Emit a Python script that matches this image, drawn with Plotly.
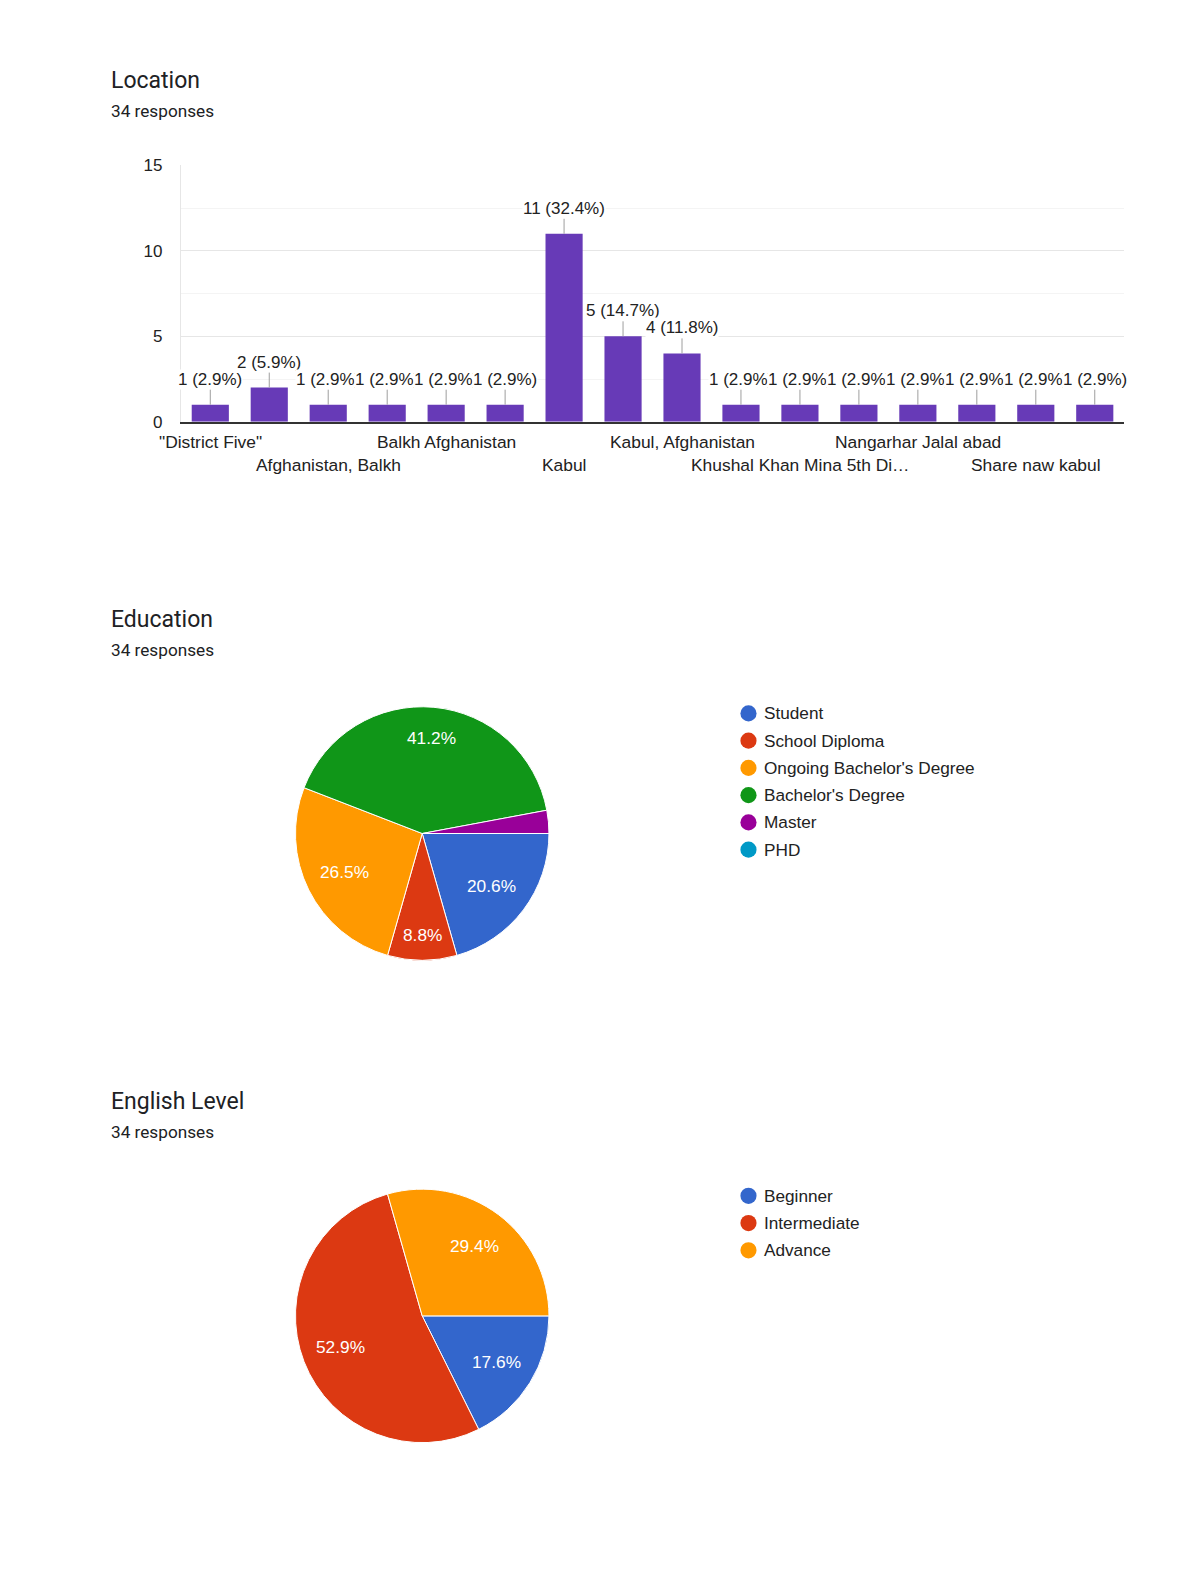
import math
import plotly.graph_objects as go

W, H = 1200, 1583

# ---------------- data ----------------
loc_categories = ['"District Five"', 'Afghanistan', 'Afghanistan, Balkh', 'Balkh',
                  'Balkh Afghanistan', 'Herat', 'Kabul', 'Kabul Afghanistan',
                  'Kabul, Afghanistan', 'Kandahar', 'Khushal Khan Mina 5th Di…',
                  'Mazar-i-Sharif', 'Nangarhar Jalal abad', 'Parwan',
                  'Share naw kabul', 'Taimani']
loc_counts = [1, 2, 1, 1, 1, 1, 11, 5, 4, 1, 1, 1, 1, 1, 1, 1]
# tick labels as shown (every other category, two rows)
loc_ticklabels = ['"District Five"', '', 'Afghanistan, Balkh', '', 'Balkh Afghanistan', '',
                  'Kabul', '', 'Kabul, Afghanistan', '', 'Khushal Khan Mina 5th Di…', '',
                  'Nangarhar Jalal abad', '', 'Share naw kabul', '']
loc_tickrow = [0, 0, 1, 0, 0, 0, 1, 0, 0, 0, 1, 0, 0, 0, 1, 0]

edu_labels = ['Student', 'School Diploma', "Ongoing Bachelor's Degree",
              "Bachelor's Degree", 'Master', 'PHD']
edu_counts = [7, 3, 9, 14, 1, 0]

eng_labels = ['Beginner', 'Intermediate', 'Advance']
eng_counts = [6, 18, 10]

total_responses = 34
pie_colors = ['#3366cc', '#dc3912', '#ff9900', '#109618', '#990099', '#0099c6']
bar_color = '#673ab7'

# ---------------- layout helpers (page pixel -> paper fraction) ----------------
SX, SY, OY = 0.99, 0.979, 8.0

def fx(x):
    return x / SX / W

def fy(y):
    return 1 - (y - OY) / SY / H

FONT = 'Liberation Sans, Arial, sans-serif'
TFONT = 'Roboto, Arial, sans-serif'
TXT = '#222222'

fig = go.Figure()

# ---------------- bar chart ----------------
fig.add_trace(go.Bar(
    x=loc_categories, y=loc_counts, marker_color=bar_color,
    marker_line_width=0, showlegend=False, hoverinfo='x+y'))

annotations = []
for cat, v in zip(loc_categories, loc_counts):
    pct = v / total_responses * 100
    annotations.append(dict(
        x=cat, y=v, xref='x', yref='y', text=f'{v} ({pct:.1f}%)',
        showarrow=True, arrowhead=0, arrowwidth=1, arrowcolor='#9e9e9e',
        ax=0, ay=-15, yanchor='bottom', xanchor='center',
        bgcolor='white', borderpad=0,
        font=dict(family=FONT, size=17, color=TXT)))

for cat, lab, row in zip(loc_categories, loc_ticklabels, loc_tickrow):
    if lab:
        annotations.append(dict(
            x=cat, xref='x', y=fy(437 + 23 * row), yref='paper', text=lab,
            showarrow=False, xanchor='center', yanchor='middle',
            font=dict(family=FONT, size=17.4, color=TXT)))

fig.update_layout(
    xaxis=dict(domain=[fx(179), fx(1113)], range=[-0.5, len(loc_categories) - 0.5],
               showticklabels=False, showgrid=False, showline=True,
               linecolor='#333333', linewidth=1.5, zeroline=False, fixedrange=True),
    yaxis=dict(domain=[fy(417), fy(163)], range=[0, 15], tickvals=[0, 5, 10, 15],
               showgrid=True, gridcolor='#e6e6e6', gridwidth=1, zeroline=False,
               showline=True, linecolor='#e6e6e6', linewidth=1,
               minor=dict(dtick=2.5, showgrid=True, gridcolor='#f4f4f4'),
               tickfont=dict(family=FONT, size=17, color=TXT), ticklabelstandoff=14,
               fixedrange=True),
    bargap=0.37,
)

# ---------------- pies ----------------
PIE_CX, PIE_R = 418, 127

def add_pie(labels, values, colors, cy):
    # square domain (in real pixels) centred on the pie position
    half = PIE_R / SX
    cxp = PIE_CX / SX
    cyp = (cy - OY) / SY
    fig.add_trace(go.Pie(
        labels=labels, values=values, sort=False, direction='clockwise',
        rotation=90, marker=dict(colors=colors, line=dict(color='white', width=1)),
        textinfo='none', hoverinfo='label+value+percent',
        domain=dict(x=[(cxp - half) / W, (cxp + half) / W],
                    y=[1 - (cyp + half) / H, 1 - (cyp - half) / H]),
        showlegend=False))
    # slice percentage labels placed along each slice's bisector
    tot = sum(values)
    start = 90.0  # compass degrees; first slice starts at 3 o'clock
    for v in values:
        sweep = v / tot * 360
        frac = v / tot
        if frac >= 0.05:
            mid = math.radians(start + sweep / 2)
            rf = 0.79 if sweep < 40 else (0.75 if 130 < sweep < 160 else 0.68)
            tx = PIE_CX + rf * PIE_R * math.sin(mid)
            ty = cy - rf * PIE_R * math.cos(mid)
            annotations.append(dict(x=fx(tx), y=fy(ty), xref='paper', yref='paper',
                                    text=f'{frac * 100:.1f}%', showarrow=False,
                                    xanchor='center', yanchor='middle',
                                    font=dict(family=FONT, size=17.3, color='white')))
        start += sweep

add_pie(edu_labels, edu_counts, pie_colors, 825)
add_pie(eng_labels, eng_counts, pie_colors[:3], 1303)

# ---------------- titles ----------------
for title, ty in [('Location', 79), ('Education', 613), ('English Level', 1091)]:
    annotations.append(dict(x=fx(108), y=fy(ty), xref='paper', yref='paper',
                            text=title, showarrow=False, xanchor='left', yanchor='middle',
                            font=dict(family=TFONT, size=23, color='#202124')))
    annotations.append(dict(x=fx(108), y=fy(ty + 30), xref='paper', yref='paper',
                            text=f'{total_responses} responses', showarrow=False,
                            xanchor='left', yanchor='middle',
                            font=dict(family=TFONT, size=17.2, color='#202124')))

# ---------------- custom legends ----------------
shapes = []
def add_legend(labels, colors, y_start):
    for i, (lab, col) in enumerate(zip(labels, colors)):
        cy = y_start + 27 * i
        shapes.append(dict(type='circle', xref='paper', yref='paper',
                           x0=fx(741 - 8), x1=fx(741 + 8),
                           y0=fy(cy + 8), y1=fy(cy - 8),
                           fillcolor=col, line=dict(width=0)))
        annotations.append(dict(x=fx(754), y=fy(cy), xref='paper', yref='paper',
                                text=lab, showarrow=False, xanchor='left', yanchor='middle',
                                font=dict(family=FONT, size=17.2, color=TXT)))

add_legend(edu_labels, pie_colors, 706)
add_legend(eng_labels, pie_colors, 1184)

fig.update_layout(
    width=W, height=H, margin=dict(l=0, r=0, t=0, b=0),
    paper_bgcolor='white', plot_bgcolor='white',
    annotations=annotations, shapes=shapes,
)

fig.write_html(
    'out.html',
    config={'displayModeBar': False},
    post_script=("document.body.style.margin='0';"
                 "document.body.style.overflow='hidden';"))
